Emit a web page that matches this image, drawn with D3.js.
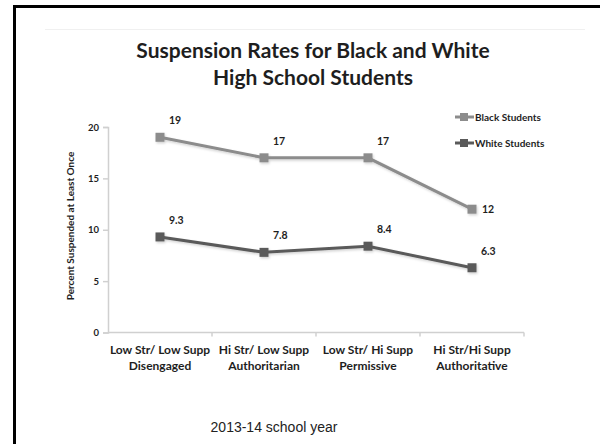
<!DOCTYPE html>
<html>
<head>
<meta charset="utf-8">
<script src="https://cdn.jsdelivr.net/npm/d3@7"></script>
<style>
  html, body { margin: 0; padding: 0; background: #fff; overflow: hidden; }
  svg { display: block; }
</style>
</head>
<body>
<svg id="chart" width="600" height="444"></svg>
<script>
// Parenting style categories (two-line labels)
const categories = [
  ["Low Str/ Low Supp", "Disengaged"],
  ["Hi Str/ Low Supp", "Authoritarian"],
  ["Low Str/ Hi Supp", "Permissive"],
  ["Hi Str/Hi Supp", "Authoritative"]
];
const blackStudents = [19, 17, 17, 12];
const whiteStudents = [9.3, 7.8, 8.4, 6.3];
const yTicks = [0, 5, 10, 15, 20];
const seriesNames = ["Black Students", "White Students"];
const seriesColors = ["#8c8c8c", "#5a5a5a"];
const titleLines = ["Suspension Rates for Black and White", "High School Students"];

const svg = d3.select("#chart");
const font = "Lato, 'Open Sans', sans-serif";
const ink = "#1e1e1e";

// soft drop shadow used under the series
const defs = svg.append("defs");
const shadow = defs.append("filter").attr("id", "shadow")
  .attr("x", "-10%").attr("y", "-20%").attr("width", "120%").attr("height", "140%");
shadow.append("feDropShadow")
  .attr("dx", 1).attr("dy", 1.5).attr("stdDeviation", 1)
  .attr("flood-color", "#000").attr("flood-opacity", 0.18);

// slide frame (top and left edges fall inside the view)
svg.append("path")
  .attr("d", "M14.5,444 L14.5,6.5 L600,6.5")
  .attr("fill", "none").attr("stroke", "#000").attr("stroke-width", 3);

// faint chart-area edge
svg.append("line")
  .attr("x1", 45).attr("x2", 585).attr("y1", 29.5).attr("y2", 29.5)
  .attr("stroke", "#f0f0f0").attr("stroke-width", 1);

// title, centred over the chart area
titleLines.forEach((s, i) => {
  svg.append("text")
    .attr("x", 313).attr("y", 58 + i * 27)
    .attr("text-anchor", "middle")
    .attr("font-family", font).attr("font-weight", 700)
    .attr("font-size", 21).attr("fill", ink)
    .text(s);
});

// scales
const x = d3.scaleBand().domain(d3.range(categories.length)).range([108, 524]);
const y = d3.scaleLinear().domain([0, 20]).range([332.5, 127]);

// y axis
const yAxis = svg.append("g")
  .attr("transform", "translate(108,0)")
  .call(d3.axisLeft(y).tickValues(yTicks).tickSize(5).tickPadding(4));
yAxis.select(".domain").attr("stroke", "#d0d0d0").attr("stroke-width", 1.5);
yAxis.selectAll(".tick line").attr("stroke", "#d0d0d0").attr("stroke-width", 1.5);
yAxis.selectAll(".tick text")
  .attr("font-family", font).attr("font-weight", 700)
  .attr("font-size", 9.5).attr("fill", ink);

// x axis with ticks on band boundaries
const xAxis = svg.append("g").attr("transform", `translate(0,${y(0)})`);
xAxis.append("line")
  .attr("x1", 108).attr("x2", 524)
  .attr("stroke", "#d0d0d0").attr("stroke-width", 1.5);
d3.range(categories.length).forEach(i => {
  xAxis.append("line")
    .attr("x1", x(i) + x.bandwidth()).attr("x2", x(i) + x.bandwidth())
    .attr("y1", 0).attr("y2", 4)
    .attr("stroke", "#d0d0d0").attr("stroke-width", 1.5);
});
categories.forEach((lines, i) => {
  const t = svg.append("text")
    .attr("text-anchor", "middle")
    .attr("font-family", font).attr("font-weight", 700)
    .attr("font-size", 12).attr("fill", ink);
  lines.forEach((s, j) => {
    t.append("tspan")
      .attr("x", x(i) + x.bandwidth() / 2)
      .attr("y", 354 + j * 15.5)
      .text(s);
  });
});

// y axis title
svg.append("text")
  .attr("transform", "translate(74,226) rotate(-90)")
  .attr("text-anchor", "middle")
  .attr("font-family", font).attr("font-weight", 700)
  .attr("font-size", 10).attr("fill", ink)
  .text("Percent Suspended at Least Once");

// series lines and markers
const cx = i => x(i) + x.bandwidth() / 2;
const line = d3.line().x((d, i) => cx(i)).y(d => y(d));
[blackStudents, whiteStudents].forEach((vals, s) => {
  const g = svg.append("g");
  const marks = g.append("g").attr("filter", "url(#shadow)");
  marks.append("path")
    .attr("d", line(vals))
    .attr("fill", "none")
    .attr("stroke", seriesColors[s])
    .attr("stroke-width", 3);
  marks.selectAll("rect").data(vals).join("rect")
    .attr("x", (d, i) => cx(i) - 4.5)
    .attr("y", d => y(d) - 4.5)
    .attr("width", 9).attr("height", 9)
    .attr("fill", seriesColors[s]);
  // data labels: above-right, except the last black point sits to the right
  g.selectAll("text").data(vals).join("text")
    .attr("font-family", font).attr("font-weight", 700)
    .attr("font-size", 10.5).attr("fill", ink)
    .attr("dominant-baseline", "central")
    .attr("x", (d, i) => cx(i) + (s === 0 && i === 3 ? 10 : 9))
    .attr("y", (d, i) => (s === 0 && i === 3) ? y(d) : y(d) - 17)
    .text(d => d);
});

// legend
seriesNames.forEach((name, s) => {
  const ly = 117 + s * 26;
  svg.append("line")
    .attr("x1", 455).attr("x2", 474).attr("y1", ly).attr("y2", ly)
    .attr("stroke", seriesColors[s]).attr("stroke-width", 3);
  svg.append("rect")
    .attr("x", 460).attr("y", ly - 4).attr("width", 8).attr("height", 8)
    .attr("fill", seriesColors[s]);
  svg.append("text")
    .attr("x", 475).attr("y", ly)
    .attr("dominant-baseline", "central")
    .attr("font-family", font).attr("font-weight", 700)
    .attr("font-size", 10).attr("fill", ink)
    .text(name);
});

// footnote
svg.append("text")
  .attr("x", 274).attr("y", 432)
  .attr("text-anchor", "middle")
  .attr("font-family", "'Liberation Sans', Arial, sans-serif")
  .attr("font-size", 14).attr("fill", "#222")
  .text("2013-14 school year");
</script>
</body>
</html>
